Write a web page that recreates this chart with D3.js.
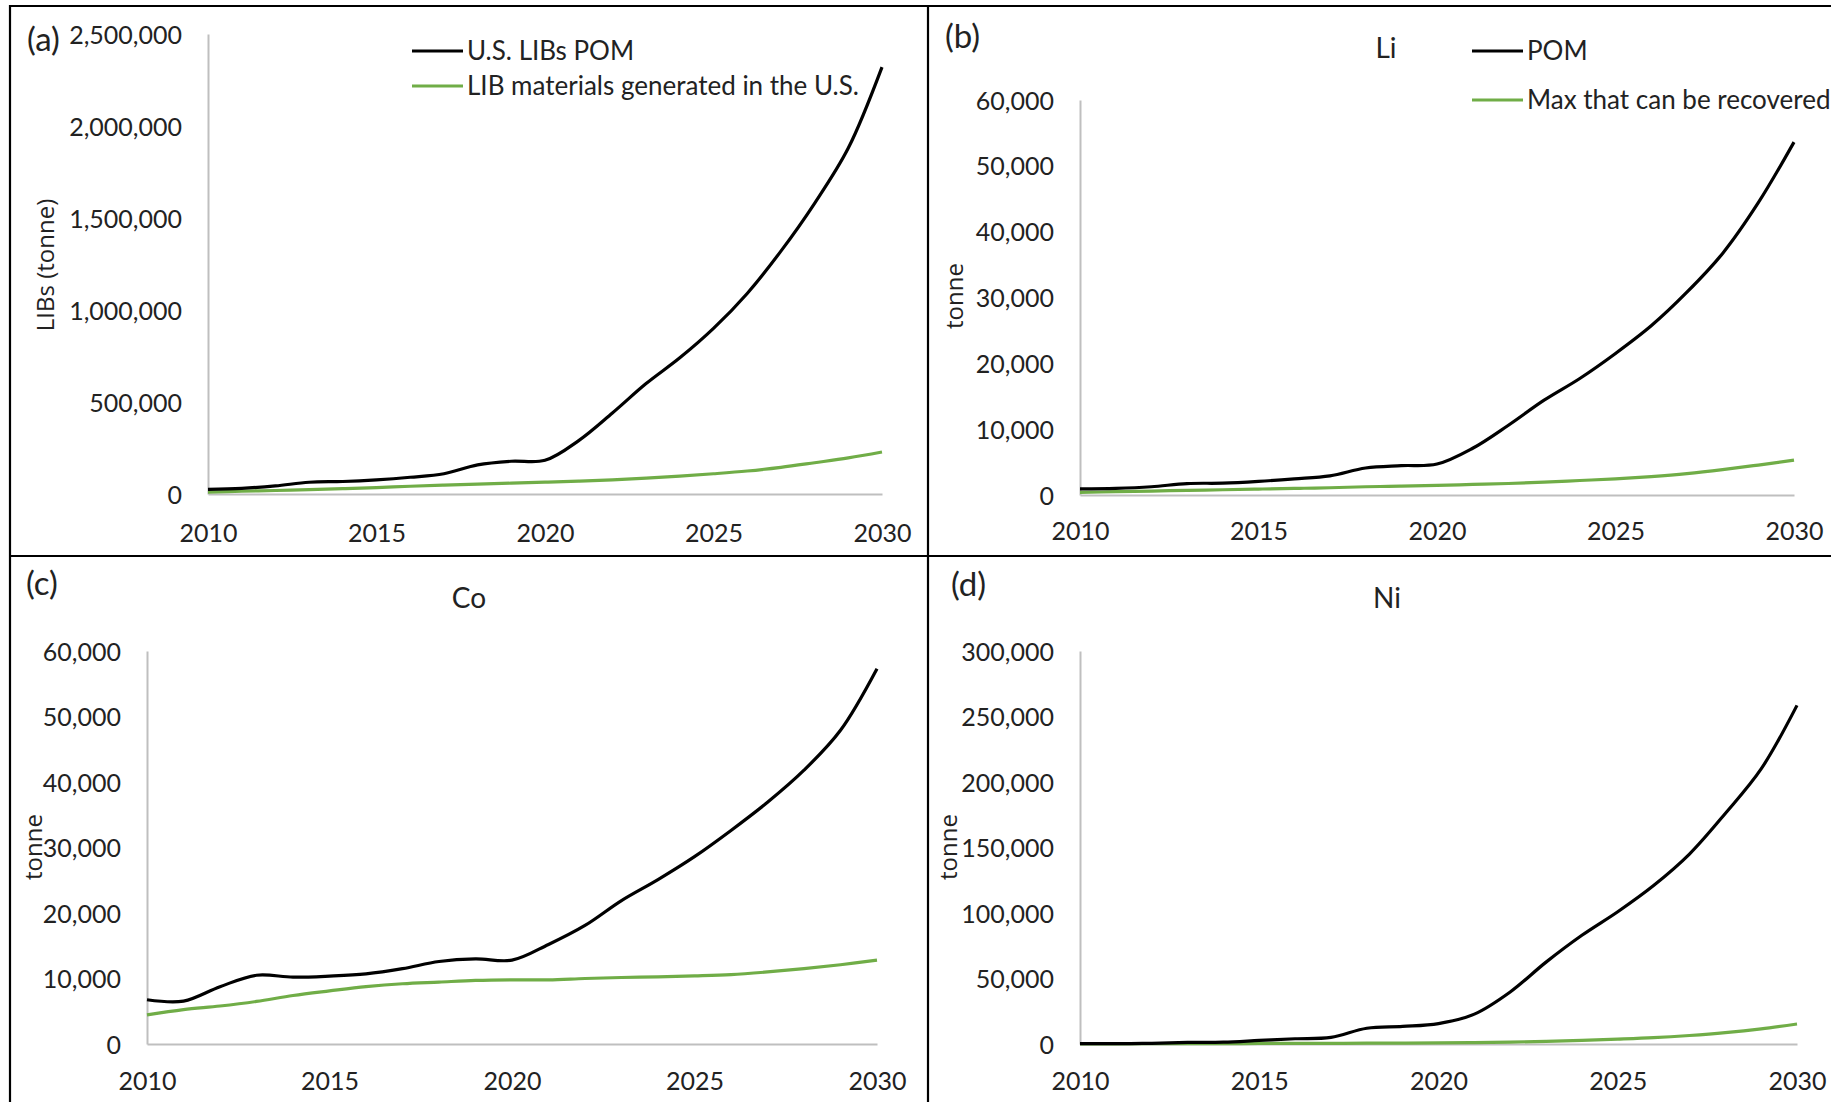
<!DOCTYPE html>
<html>
<head>
<meta charset="utf-8">
<script src="https://cdn.jsdelivr.net/npm/d3@7"></script>
<style>
  html, body { margin: 0; padding: 0; background: #ffffff; }
  svg { display: block; }
</style>
</head>
<body>
<svg id="chart" width="1831" height="1102"></svg>
<script>
// ---- Data (tonnes per year) ----
const years = [2010, 2011, 2012, 2013, 2014, 2015, 2016, 2017, 2018, 2019, 2020,
               2021, 2022, 2023, 2024, 2025, 2026, 2027, 2028, 2029, 2030];
const xTickValues = [2010, 2015, 2020, 2025, 2030];

// (a) LIBs
const libsPom = [25000, 31000, 44000, 64000, 68000, 77000, 91000, 110000, 158000, 178000, 183000,
                 290000, 440000, 600000, 740000, 900000, 1090000, 1320000, 1580000, 1880000, 2320000];
const libMaterials = [10000, 15000, 19000, 24000, 29000, 35000, 42000, 48000, 54000, 59000, 64000,
                      70000, 77000, 86000, 97000, 110000, 125000, 145000, 170000, 196000, 228000];

// (b) Li
const liPom = [930, 1000, 1250, 1740, 1800, 2070, 2450, 2900, 4100, 4460, 4700,
               7100, 10600, 14400, 17700, 21500, 25700, 30800, 36700, 44400, 53600];
const liRecoverable = [400, 500, 600, 700, 800, 900, 1000, 1100, 1250, 1350, 1450,
                       1600, 1750, 1950, 2200, 2450, 2800, 3250, 3850, 4550, 5300];

// (c) Co
const coPom = [6760, 6550, 8750, 10500, 10200, 10360, 10700, 11500, 12600, 13000, 12800,
               15200, 18100, 21900, 25100, 28600, 32600, 36900, 41800, 47900, 57300];
const coRecoverable = [4450, 5260, 5800, 6500, 7400, 8100, 8750, 9200, 9450, 9700, 9800,
                       9800, 10000, 10150, 10250, 10400, 10600, 11000, 11500, 12100, 12800];

// (d) Ni
const niPom = [300, 300, 500, 1200, 1400, 2700, 4000, 5100, 12000, 13400, 15600,
               22800, 39700, 62500, 83000, 101000, 121000, 145000, 176000, 210000, 258500];
const niRecoverable = [100, 150, 200, 250, 300, 400, 450, 500, 600, 700, 800,
                       1100, 1500, 2000, 2800, 3700, 4800, 6500, 8700, 11600, 15300];

// Axis tick values
const yTicksLibs = [0, 500000, 1000000, 1500000, 2000000, 2500000];
const yTicksLi = [0, 10000, 20000, 30000, 40000, 50000, 60000];
const yTicksCo = [0, 10000, 20000, 30000, 40000, 50000, 60000];
const yTicksNi = [0, 50000, 100000, 150000, 200000, 250000, 300000];

// Legend texts
const legendA = ["U.S. LIBs POM", "LIB materials generated in the U.S."];
const legendB = ["POM", "Max that can be recovered"];

// ---- Styling ----
const TEXT = "#222222";
const AXIS = "#bfbfbf";
const BLACK = "#000000";
const GREEN = "#70ad47";
const FONT = "Lato, 'Open Sans', sans-serif";
const TITLE_FONT = "'Open Sans', 'DejaVu Sans', sans-serif";
const TICK_FS = 25;
const LEGEND_FS = 26;
const TAG_FS = 33;
const HEAD_FS = 28;
const LINE_W = 3.2;

const panels = [
  { tag: "(a)", title: null, yLabel: "LIBs (tonne)", pom: libsPom, rec: libMaterials, yTicks: yTicksLibs,
    legend: legendA,
    box: { x0: 208, x1: 882, yTop: 34, yBottom: 494, xLabelOff: 39,
           tagX: 27, tagY: 41, titleX: null, titleY: null, yLabX: 47, yLabY: 265,
           legX: 412, legY: 51, legGap: 35 } },
  { tag: "(b)", title: "Li", yLabel: "tonne", pom: liPom, rec: liRecoverable, yTicks: yTicksLi,
    legend: legendB,
    box: { x0: 1080, x1: 1794, yTop: 100, yBottom: 495, xLabelOff: 36,
           tagX: 945, tagY: 38, titleX: 1386, titleY: 48, yLabX: 956, yLabY: 296,
           legX: 1472, legY: 51, legGap: 49 } },
  { tag: "(c)", title: "Co", yLabel: "tonne", pom: coPom, rec: coRecoverable, yTicks: yTicksCo,
    legend: null,
    box: { x0: 147, x1: 877, yTop: 651, yBottom: 1044, xLabelOff: 37,
           tagX: 26, tagY: 585, titleX: 469, titleY: 598, yLabX: 35, yLabY: 847 } },
  { tag: "(d)", title: "Ni", yLabel: "tonne", pom: niPom, rec: niRecoverable, yTicks: yTicksNi,
    legend: null,
    box: { x0: 1080, x1: 1797, yTop: 651, yBottom: 1044, xLabelOff: 37,
           tagX: 951, tagY: 586, titleX: 1387, titleY: 598, yLabX: 950, yLabY: 847 } }
];

const svg = d3.select("#chart");
svg.append("rect").attr("width", 1831).attr("height", 1102).attr("fill", "#ffffff");

// Panel frame lines
const frame = svg.append("g").attr("stroke", "#000").attr("stroke-width", 2.2).attr("fill", "none");
frame.append("line").attr("x1", 10).attr("y1", 5).attr("x2", 10).attr("y2", 1102);
frame.append("line").attr("x1", 9).attr("y1", 6).attr("x2", 1831).attr("y2", 6);
frame.append("line").attr("x1", 928).attr("y1", 5).attr("x2", 928).attr("y2", 1102);
frame.append("line").attr("x1", 9).attr("y1", 556).attr("x2", 1831).attr("y2", 556);

const fmt = d3.format(",");

panels.forEach(p => {
  const b = p.box;
  const x = d3.scaleLinear().domain([years[0], years[years.length - 1]]).range([b.x0, b.x1]);
  const y = d3.scaleLinear().domain([0, p.yTicks[p.yTicks.length - 1]]).range([b.yBottom, b.yTop]);
  const g = svg.append("g");

  // Y axis
  const ya = g.append("g").attr("transform", `translate(${b.x0},0)`)
    .call(d3.axisLeft(y).tickValues(p.yTicks).tickFormat(fmt).tickSize(0).tickSizeOuter(0).tickPadding(26));
  // X axis
  const xa = g.append("g").attr("transform", `translate(0,${b.yBottom})`)
    .call(d3.axisBottom(x).tickValues(xTickValues).tickFormat(d3.format("d")).tickSize(0).tickSizeOuter(0).tickPadding(b.xLabelOff));

  [ya, xa].forEach(a => {
    a.select(".domain").attr("stroke", AXIS).attr("stroke-width", 2);
    a.selectAll(".tick text")
      .attr("font-family", FONT).attr("font-size", TICK_FS).attr("fill", TEXT).attr("dy", "0.36em");
    a.attr("font-family", null).attr("font-size", null);
  });

  // Series lines
  const line = vals => d3.line()
    .x((d, i) => x(years[i]))
    .y(d => y(d))
    .curve(d3.curveCatmullRom.alpha(0.5))(vals);

  g.append("path").attr("d", line(p.rec)).attr("fill", "none")
    .attr("stroke", GREEN).attr("stroke-width", LINE_W).attr("stroke-linejoin", "round");
  g.append("path").attr("d", line(p.pom)).attr("fill", "none")
    .attr("stroke", BLACK).attr("stroke-width", LINE_W).attr("stroke-linejoin", "round");

  // Panel tag
  g.append("text").attr("x", b.tagX).attr("y", b.tagY + 0.3 * TAG_FS)
    .attr("font-family", FONT).attr("font-size", TAG_FS).attr("fill", TEXT).text(p.tag);

  // Element title
  if (p.title) {
    g.append("text").attr("x", b.titleX).attr("y", b.titleY + 0.36 * HEAD_FS)
      .attr("text-anchor", "middle").attr("font-family", FONT).attr("font-size", HEAD_FS)
      .attr("fill", TEXT).text(p.title);
  }

  // Y axis title
  g.append("text")
    .attr("transform", `translate(${b.yLabX + 0.3 * 24},${b.yLabY}) rotate(-90)`)
    .attr("text-anchor", "middle").attr("font-family", TITLE_FONT).attr("font-size", 24)
    .attr("fill", TEXT).text(p.yLabel);

  // Legend
  if (p.legend) {
    const colors = [BLACK, GREEN];
    p.legend.forEach((label, i) => {
      const ly = b.legY + i * b.legGap;
      g.append("line").attr("x1", b.legX).attr("x2", b.legX + 51).attr("y1", ly).attr("y2", ly)
        .attr("stroke", colors[i]).attr("stroke-width", LINE_W);
      g.append("text").attr("x", b.legX + 55).attr("y", ly + 0.36 * LEGEND_FS)
        .attr("font-family", FONT).attr("font-size", LEGEND_FS).attr("fill", TEXT).text(label);
    });
  }
});
</script>
</body>
</html>
